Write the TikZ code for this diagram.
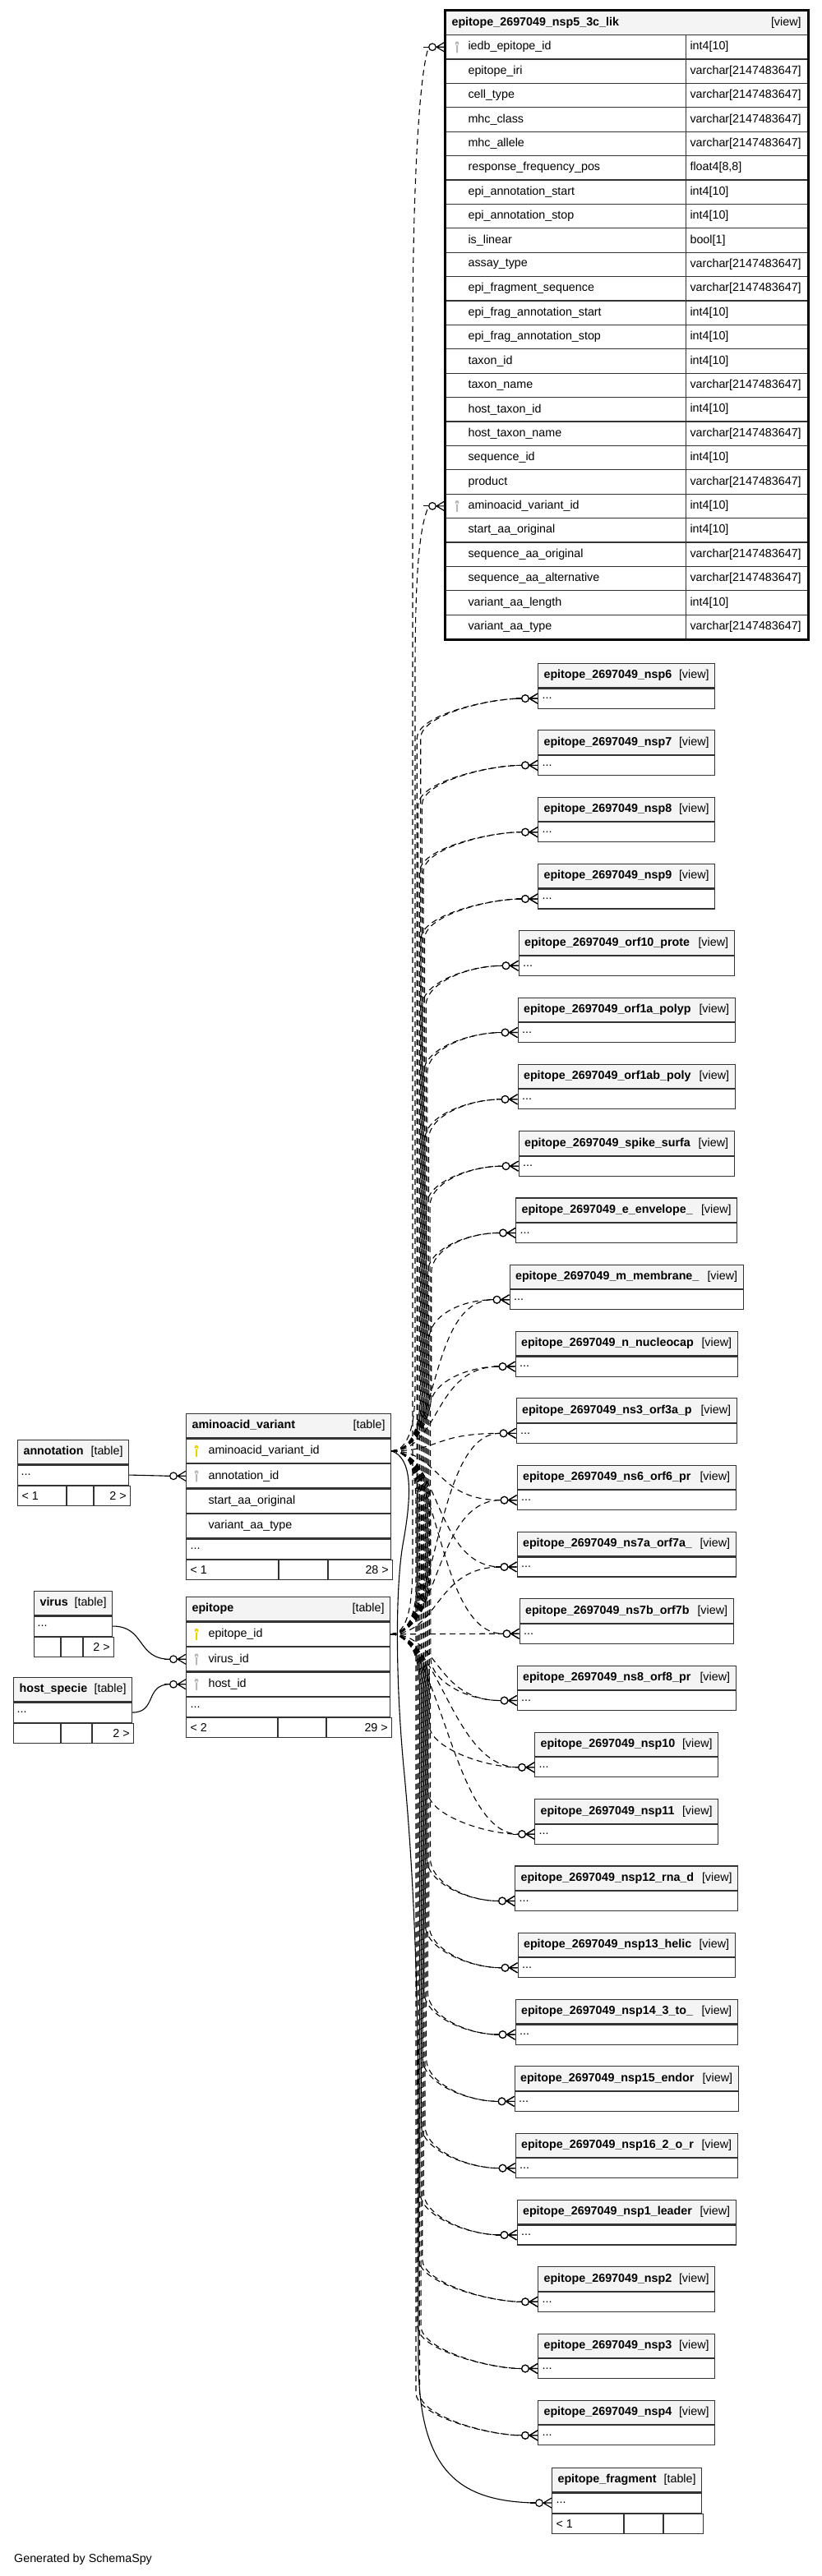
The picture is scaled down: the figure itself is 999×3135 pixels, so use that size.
\documentclass[tikz,border=0pt]{standalone}
\usepackage{fontspec}
\setmainfont{Liberation Sans}
\usetikzlibrary{positioning}
\definecolor{boxline}{HTML}{333333}
\definecolor{hdrfill}{HTML}{F4F4F4}
\definecolor{pkgold}{HTML}{E8D200}
\definecolor{fkgray}{HTML}{B8B8B8}

% header text: bold name left, kind right
\newcommand{\hdrline}[3]{\hbox to \dimexpr#1pt-14pt\relax{\bfseries #2\hfil\mdseries[#3]}}
% row text with an indent
\newcommand{\rowline}[3]{\hbox to \dimexpr#1pt-14pt\relax{\hskip#2pt #3\hfil}}
% footer of a table: three cells
\newcommand{\footcells}[7]{%
    \node[foot] (#1a) at (#2) {\hbox to \dimexpr#3pt-10pt\relax{#6\hfil}};
    \node[foot] (#1b) at (#1a.north east) {\hbox to \dimexpr#4pt-10pt\relax{\hfil}};
    \node[foot] (#1c) at (#1b.north east) {\hbox to \dimexpr#5pt-10pt\relax{\hfil #7}};}
% dashed link from a key row to a view
\newcommand{\fkline}[4]{%
    \pgfmathtruncatemacro\fkdy{#4-#2}
    \pgfmathsetmacro\fkbx{530-abs(#4-#2)/50}
    \ifnum\fkdy<-260
      \draw[fk] (#1.east) .. controls +(25,0) and (\fkbx,#2-30) .. (\fkbx,#2-70)
        -- (\fkbx,#4+50) .. controls (\fkbx,#4+22) and ([xshift=-60pt]#3.west) .. ([xshift=-19.3pt]#3.west);
    \else\ifnum\fkdy>260
      \draw[fk] (#1.east) .. controls +(25,0) and (\fkbx,#2+30) .. (\fkbx,#2+70)
        -- (\fkbx,#4-50) .. controls (\fkbx,#4-22) and ([xshift=-60pt]#3.west) .. ([xshift=-19.3pt]#3.west);
    \else
      \draw[fk] (#1.east) .. controls +(60,0) and ([xshift=-100pt]#3.west) .. ([xshift=-19.3pt]#3.west);
    \fi\fi
    \pic at (#3.west) {zmany};}

\tikzset{
    %boxes
    tcell/.style={draw=boxline, line width=1.1pt, anchor=north west,
           inner xsep=7pt, inner ysep=0pt, minimum height=29.4pt},
    head/.style={tcell, fill=hdrfill},
    dots/.style={tcell, minimum height=24pt},
    foot/.style={dots, inner xsep=5pt},
    %links
    fk/.style={draw=black, line width=1.1pt, dash pattern=on 7pt off 5pt},
    solidfk/.style={draw=black, line width=1.1pt},
    %zero or many end
    zmany/.pic={
        \draw[solid, line width=1.2pt] (-26,0) -- (-19.3,0);
        \draw[solid, line width=1.2pt, fill=white] (-15,0) circle (4.3);
        \draw[solid, line width=1.2pt] (-10,0) -- (0,0) (-10,0) -- (0,-6) (-10,0) -- (0,6);
    },
    %key sign
    keyicon/.pic={\path[pic actions] (0,-4.5) circle (2.4) (-1,-4) rectangle (1,7);},
}

\begin{document}
\begin{tikzpicture}[x=1pt, y=-1pt, font=\fontsize{14.3}{17}\selectfont]
    \fill[white] (0,0) rectangle (999,3135);
    \useasboundingbox (0,0) rectangle (999,3135);
 %view with columns
    \node[head, minimum height=30pt, inner xsep=8pt] (top) at (541,12) {\hbox to 425pt{\bfseries epitope\_2697049\_nsp5\_3c\_lik\hfil\mdseries[view]}};
    \foreach \col/\typ [count=\r from 0] in {iedb\_epitope\_id/int4[10], epitope\_iri/varchar[2147483647],
        cell\_type/varchar[2147483647], mhc\_class/varchar[2147483647], mhc\_allele/varchar[2147483647],
        response\_frequency\_pos/{float4[8,8]}, epi\_annotation\_start/int4[10], epi\_annotation\_stop/int4[10],
        is\_linear/bool[1], assay\_type/varchar[2147483647], epi\_fragment\_sequence/varchar[2147483647],
        epi\_frag\_annotation\_start/int4[10], epi\_frag\_annotation\_stop/int4[10], taxon\_id/int4[10],
        taxon\_name/varchar[2147483647], host\_taxon\_id/int4[10], host\_taxon\_name/varchar[2147483647],
        sequence\_id/int4[10], product/varchar[2147483647], aminoacid\_variant\_id/int4[10],
        start\_aa\_original/int4[10], sequence\_aa\_original/varchar[2147483647],
        sequence\_aa\_alternative/varchar[2147483647], variant\_aa\_length/int4[10],
        variant\_aa\_type/varchar[2147483647]} {
        \node[tcell] (c\r) at (541,42+29.4*\r) {\rowline{293}{21}{\col}};
        \node[tcell] (t\r) at (834,42+29.4*\r) {\rowline{148}{-2}{\typ}};
    }
    \draw[line width=3pt] (top.north west) rectangle (t24.south east);
    \pic[fill=fkgray] at ([xshift=15pt]c0.west) {keyicon};
    \pic[fill=fkgray] at ([xshift=15pt]c19.west) {keyicon};
 %views
    \foreach \nm/\w [count=\i from 0] in {nsp6/215, nsp7/215, nsp8/215, nsp9/215, orf10\_prote/262,
        orf1a\_polyp/264, orf1ab\_poly/264, spike\_surfa/262, e\_envelope\_/269, m\_membrane\_/284,
        n\_nucleocap/270, ns3\_orf3a\_p/268, ns6\_orf6\_pr/266, ns7a\_orf7a\_/266, ns7b\_orf7b/260,
        ns8\_orf8\_pr/266, nsp10/223, nsp11/223, nsp12\_rna\_d/271, nsp13\_helic/264, nsp14\_3\_to\_/270,
        nsp15\_endor/272, nsp16\_2\_o\_r/270, nsp1\_leader/266, nsp2/215, nsp3/215, nsp4/215} {
        \node[head] (v\i) at (761.5-\w/2,807+81.3*\i) {\hdrline{\w}{epitope\_2697049\_\nm}{view}};
        \node[dots] (vb\i) at (v\i.south west) {\rowline{\w}{-2}{...}};
    }
 %tables
    \node[head] (av) at (226,1720) {\hdrline{249}{aminoacid\_variant}{table}};
    \node[tcell] (avid) at (av.south west) {\rowline{249}{20}{aminoacid\_variant\_id}};
    \node[tcell] (avann) at (avid.south west) {\rowline{249}{20}{annotation\_id}};
    \node[tcell] (avstart) at (avann.south west) {\rowline{249}{20}{start\_aa\_original}};
    \node[tcell] (avtype) at (avstart.south west) {\rowline{249}{20}{variant\_aa\_type}};
    \node[dots] (avdots) at (avtype.south west) {\rowline{249}{-2}{...}};
    \footcells{avf}{avdots.south west}{112}{59}{78}{< 1}{28 >}
    \pic[fill=pkgold] at ([xshift=13pt]avid.west) {keyicon};
    \pic[fill=fkgray] at ([xshift=13pt]avann.west) {keyicon};

    \node[head] (ep) at (226,1943) {\hdrline{248}{epitope}{table}};
    \node[tcell] (epid) at (ep.south west) {\rowline{248}{20}{epitope\_id}};
    \node[tcell] (epvir) at (epid.south west) {\rowline{248}{20}{virus\_id}};
    \node[tcell] (ephost) at (epvir.south west) {\rowline{248}{20}{host\_id}};
    \node[dots] (epdots) at (ephost.south west) {\rowline{248}{-2}{...}};
    \footcells{epf}{epdots.south west}{111}{58}{79}{< 2}{29 >}
    \pic[fill=pkgold] at ([xshift=13pt]epid.west) {keyicon};
    \pic[fill=fkgray] at ([xshift=13pt]epvir.west) {keyicon};
    \pic[fill=fkgray] at ([xshift=13pt]ephost.west) {keyicon};

    \node[head] (ann) at (21,1752) {\hdrline{135}{annotation}{table}};
    \node[dots] (anndots) at (ann.south west) {\rowline{135}{-3}{...}};
    \footcells{annf}{anndots.south west}{59}{32}{44}{< 1}{2 >}

    \node[head] (vir) at (41,1936) {\hdrline{95}{virus}{table}};
    \node[dots] (virdots) at (vir.south west) {\rowline{95}{-3}{...}};
    \footcells{virf}{virdots.south west}{32}{26}{37}{}{2 >}

    \node[head] (host) at (16,2041) {\hdrline{144}{host\_specie}{table}};
    \node[dots] (hostdots) at (host.south west) {\rowline{144}{-3}{...}};
    \footcells{hostf}{hostdots.south west}{57}{37}{50}{}{2 >}

    \node[head] (frag) at (671,3003) {\hdrline{182}{epitope\_fragment}{table}};
    \node[dots] (fragdots) at (frag.south west) {\rowline{182}{-2}{...}};
    \footcells{fragf}{fragdots.south west}{87}{47}{48}{< 1}{}

    \node[anchor=west, inner sep=0pt] (gen) at (17,3115) {Generated by SchemaSpy};
 %links
    \foreach \i in {0,...,26} {
        \pgfmathsetmacro\ty{848.4+81.3*\i}
        \fkline{avid}{1763.7}{vb\i}{\ty}
        \fkline{epid}{1986.5}{vb\i}{\ty}
    }
    \draw[fk] (epid.east) .. controls +(22,0) and (502,1950) .. (502,1900)
        -- (502,420) .. controls (502,200) and (512,80) .. ([xshift=-19.3pt]c0.west);
    \pic at (c0.west) {zmany};
    \draw[fk] (avid.east) .. controls +(22,0) and (505,1730) .. (505,1690)
        -- (505,820) .. controls (505,700) and (510,640) .. ([xshift=-19.3pt]c19.west);
    \pic at (c19.west) {zmany};

    \draw[solidfk] (anndots.east) -- ([xshift=-19.3pt]avann.west);
    \pic at (avann.west) {zmany};
    \draw[solidfk] (virdots.east) .. controls +(40,0) and ([xshift=-60pt]epvir.west) .. ([xshift=-19.3pt]epvir.west);
    \pic at (epvir.west) {zmany};
    \draw[solidfk] (hostdots.east) .. controls +(30,0) and ([xshift=-50pt]ephost.west) .. ([xshift=-19.3pt]ephost.west);
    \pic at (ephost.west) {zmany};
    \draw[solidfk] (avid.east) .. controls +(25,8) and (502,1815) .. (490,1880)
        .. controls (480,1940) and (482,2060) .. (492,2160)
        .. controls (505,2300) and (509,2450) .. (509,2600) -- (509,2870)
        .. controls (509,3010) and (560,3044) .. ([xshift=-19.3pt]fragdots.west);
    \pic at (fragdots.west) {zmany};
\end{tikzpicture}
\end{document}
